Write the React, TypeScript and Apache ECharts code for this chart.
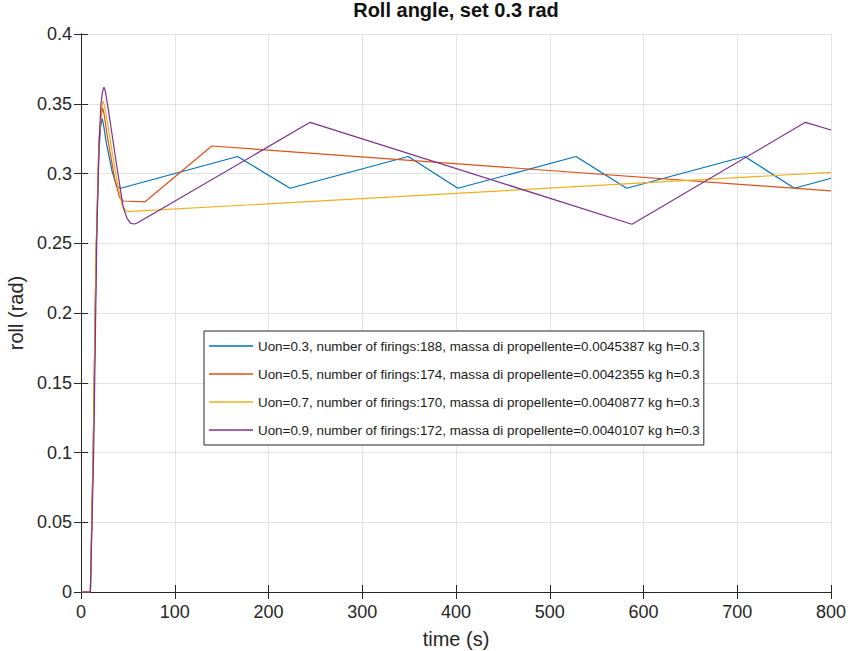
import React, { useEffect, useRef } from "react";
import * as echarts from "echarts";

const titleText = "Roll angle, set 0.3 rad";
const xName = "time (s)";
const yName = "roll (rad)";

const seriesNames = [
  "Uon=0.3, number of firings:188, massa di propellente=0.0045387 kg h=0.3",
  "Uon=0.5, number of firings:174, massa di propellente=0.0042355 kg h=0.3",
  "Uon=0.7, number of firings:170, massa di propellente=0.0040877 kg h=0.3",
  "Uon=0.9, number of firings:172, massa di propellente=0.0040107 kg h=0.3",
];
const seriesColors = ["#0072BD", "#D95319", "#EDB120", "#7E2F8E"];

const blueT = [0, 10, 13, 16, 19, 21, 22.5, 24, 27, 33, 38, 42.3, 167, 223, 349, 402, 528, 582, 708, 761, 800];
const blueY = [0, 0, 0.1, 0.24, 0.315, 0.334, 0.3395, 0.335, 0.322, 0.302, 0.291, 0.2894, 0.3122, 0.2894, 0.3122, 0.2894, 0.3122, 0.2894, 0.3122, 0.2894, 0.2966];

const orangeT = [0, 10, 13, 16, 19, 21.5, 23, 24.5, 28, 36, 41, 45, 68, 139.5, 800];
const orangeY = [0, 0, 0.1, 0.24, 0.32, 0.341, 0.347, 0.343, 0.327, 0.296, 0.283, 0.2803, 0.2796, 0.3197, 0.2875];

const yellowT = [0, 10, 13, 16, 19, 22, 23.5, 25, 29, 38, 44, 48.7, 800];
const yellowY = [0, 0, 0.1, 0.24, 0.322, 0.347, 0.352, 0.349, 0.333, 0.296, 0.277, 0.2726, 0.3008];

const purpleT = [0, 10, 13.5, 17, 19.5, 21.3, 23, 24.5, 26, 30, 38.8, 45, 49, 53, 57, 60, 244.4, 587.7, 772.7, 800];
const purpleY = [0, 0, 0.1, 0.26, 0.325, 0.35, 0.359, 0.3618, 0.359, 0.342, 0.3025, 0.276, 0.268, 0.2642, 0.2638, 0.2645, 0.3367, 0.2636, 0.3367, 0.3312];

const xMin = 0, xMax = 800, xStep = 100;
const yMin = 0, yMax = 0.4, yStep = 0.05;

const FONT = "'Liberation Sans', Arial, Helvetica, sans-serif";

function zip(t: number[], y: number[]) {
  return t.map((v, i) => [v, y[i]]);
}

export default function App() {
  const ref = useRef<HTMLDivElement>(null);
  useEffect(() => {
    if (!ref.current) return;
    const chart = echarts.init(ref.current, undefined, { renderer: "svg" });
    const allData = [zip(blueT, blueY), zip(orangeT, orangeY), zip(yellowT, yellowY), zip(purpleT, purpleY)];
    const axisColor = "#262626";
    const gridColor = "#e3e3e3";
    const option: any = {
      animation: false,
      backgroundColor: "#ffffff",
      textStyle: { fontFamily: FONT },
      title: {
        text: titleText,
        left: 456,
        textAlign: "center",
        top: 0,
        padding: 0,
        textStyle: { fontFamily: FONT, fontSize: 20, fontWeight: "bold", color: "#111111" },
      },
      grid: { left: 81, top: 34, right: 19, bottom: 59, containLabel: false, outerBoundsMode: "none" },
      legend: {
        orient: "vertical",
        left: 204,
        top: 331,
        padding: [8, 4, 8, 5],
        itemGap: 14,
        itemWidth: 44,
        itemHeight: 1.3,
        icon: "rect",
        backgroundColor: "#ffffff",
        borderColor: axisColor,
        borderWidth: 1,
        borderRadius: 0,
        textStyle: { fontFamily: FONT, fontSize: 13.4, lineHeight: 14, color: "#1a1a1a" },
        data: seriesNames,
      },
      xAxis: [
        {
          type: "value",
          min: xMin,
          max: xMax,
          interval: xStep,
          name: xName,
          nameLocation: "middle",
          nameGap: 37,
          nameTextStyle: { fontFamily: FONT, fontSize: 20, color: axisColor },
          axisLine: { show: true, lineStyle: { color: axisColor, width: 1 } },
          axisTick: { show: true, inside: true, length: 7, lineStyle: { color: axisColor } },
          axisLabel: { fontFamily: FONT, fontSize: 18, color: axisColor, margin: 11 },
          splitLine: { show: true, lineStyle: { color: gridColor, width: 1 } },
        },
        {
          type: "value",
          position: "top",
          min: xMin,
          max: xMax,
          interval: xStep,
          axisLine: { show: true, lineStyle: { color: axisColor, width: 1 } },
          axisTick: { show: true, inside: true, length: 7, lineStyle: { color: axisColor } },
          axisLabel: { show: false },
          splitLine: { show: false },
        },
      ],
      yAxis: [
        {
          type: "value",
          min: yMin,
          max: yMax,
          interval: yStep,
          name: yName,
          nameLocation: "middle",
          nameGap: 50,
          nameTextStyle: { fontFamily: FONT, fontSize: 20, color: axisColor },
          axisLine: { show: true, lineStyle: { color: axisColor, width: 1 } },
          axisTick: { show: true, inside: true, length: 7, lineStyle: { color: axisColor } },
          axisLabel: { fontFamily: FONT, fontSize: 18, color: axisColor, margin: 9 },
          splitLine: { show: true, lineStyle: { color: gridColor, width: 1 } },
        },
        {
          type: "value",
          position: "right",
          min: yMin,
          max: yMax,
          interval: yStep,
          axisLine: { show: true, lineStyle: { color: axisColor, width: 1 } },
          axisTick: { show: true, inside: true, length: 7, lineStyle: { color: axisColor } },
          axisLabel: { show: false },
          splitLine: { show: false },
        },
      ],
      series: seriesNames.map((name, i) => ({
        name,
        type: "line",
        xAxisIndex: 0,
        yAxisIndex: 0,
        data: allData[i],
        symbol: "none",
        showSymbol: false,
        smooth: false,
        color: seriesColors[i],
        lineStyle: { color: seriesColors[i], width: 1.2 },
        z: 3 + i,
      })),
    };
    chart.setOption(option);
    return () => chart.dispose();
  }, []);
  return (
    <div
      ref={ref}
      style={{ position: "fixed", left: 0, top: 0, width: 850, height: 651, background: "#fff" }}
    />
  );
}
